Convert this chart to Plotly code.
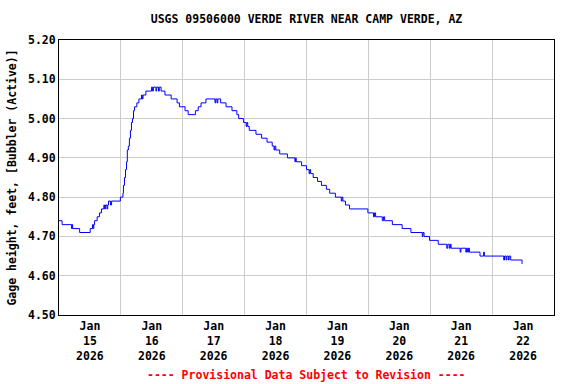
import plotly.graph_objects as go
from datetime import datetime, timedelta

# Hours after 2026-01-15 00:00 at which the gage height changes, and the new value (ft)
hours = [0.0, 1.2, 4.9, 5.1, 5.3, 8.0, 12.1, 13.0, 13.3, 13.5, 13.8, 14.8, 15.7, 16.5,
         17.4, 17.7, 18.0, 18.6, 18.9, 19.2, 20.0, 20.4, 23.8, 24.8, 25.0, 25.4, 25.8,
         26.2, 26.5, 26.9, 27.3, 27.7, 28.1, 28.5, 28.9, 29.3, 30.2, 31.0, 32.0, 32.3,
         32.6, 33.7, 35.9, 36.3, 36.6, 37.6, 37.9, 38.6, 38.9, 39.6, 41.1, 43.5, 45.8,
         46.7, 48.9, 50.1, 52.9, 54.0, 55.1, 57.0, 60.5, 60.8, 61.3, 61.6, 62.7, 64.8,
         67.1, 69.0, 69.7, 71.6, 72.6, 72.9, 73.2, 73.8, 76.4, 78.6, 80.7, 82.7, 83.4,
         83.7, 84.1, 85.6, 88.6, 91.5, 91.8, 92.0, 94.1, 96.0, 97.0, 97.3, 97.6, 98.6,
         100.3, 101.8, 103.7, 105.0, 107.2, 109.5, 109.8, 110.1, 111.1, 112.7, 119.8,
         122.0, 122.4, 122.8, 125.4, 125.9, 126.3, 129.3, 133.1, 136.5, 140.9, 141.2,
         141.6, 143.7, 147.1, 150.4, 150.8, 151.4, 151.8, 152.1, 155.6, 155.9, 157.8,
         158.1, 158.5, 158.8, 159.2, 163.3, 164.7, 165.0, 172.5, 172.8, 173.4, 173.7,
         174.3, 174.6, 175.2, 179.6]
gage_ft = [4.74, 4.73, 4.72, 4.73, 4.72, 4.71, 4.72, 4.73, 4.72, 4.73, 4.74, 4.75, 4.76, 4.77,
           4.78, 4.77, 4.78, 4.77, 4.78, 4.79, 4.78, 4.79, 4.80, 4.81, 4.83, 4.85, 4.87,
           4.89, 4.92, 4.93, 4.95, 4.97, 4.99, 5.00, 5.02, 5.03, 5.04, 5.05, 5.06, 5.05,
           5.06, 5.07, 5.08, 5.07, 5.08, 5.07, 5.08, 5.07, 5.08, 5.07, 5.06, 5.05, 5.04,
           5.03, 5.02, 5.01, 5.02, 5.03, 5.04, 5.05, 5.04, 5.05, 5.04, 5.05, 5.04, 5.03,
           5.02, 5.01, 5.00, 4.99, 4.98, 4.99, 4.98, 4.97, 4.96, 4.95, 4.94, 4.93, 4.92,
           4.93, 4.92, 4.91, 4.90, 4.89, 4.90, 4.89, 4.88, 4.87, 4.86, 4.87, 4.86, 4.85,
           4.84, 4.83, 4.82, 4.81, 4.80, 4.79, 4.80, 4.79, 4.78, 4.77, 4.76,
           4.75, 4.76, 4.75, 4.74, 4.75, 4.74, 4.73, 4.72, 4.71, 4.70, 4.71,
           4.70, 4.69, 4.68, 4.67, 4.68, 4.67, 4.68, 4.67, 4.66, 4.67, 4.66,
           4.67, 4.66, 4.67, 4.66, 4.65, 4.66, 4.65, 4.64, 4.65, 4.64, 4.65,
           4.64, 4.65, 4.64, 4.63]

start = datetime(2026, 1, 15)
times = [start + timedelta(hours=h) for h in hours]

title_text = "USGS 09506000 VERDE RIVER NEAR CAMP VERDE, AZ"
y_title = "Gage height, feet, [Bubbler (Active)]"
note_text = "---- Provisional Data Subject to Revision ----"

FONT = dict(family="DejaVu Sans Mono", size=11.5, color="black", weight="bold")

fig = go.Figure()
fig.add_trace(go.Scatter(x=times, y=gage_ft, mode="lines", line_shape="hv",
                         line=dict(color="#0000FF", width=1), showlegend=False))

fig.update_layout(
    width=576, height=384,
    margin=dict(l=59, r=22, t=40, b=69),
    paper_bgcolor="white", plot_bgcolor="white",
    font=FONT,
    title=dict(text=title_text, x=0.5, xref="paper", xanchor="center",
               y=1 - 19 / 384, yanchor="middle", font=FONT, automargin=False),
    annotations=[dict(text=note_text, xref="paper", yref="paper", x=0.5, y=-60 / 275,
                      xanchor="center", yanchor="middle", showarrow=False,
                      font=dict(family="DejaVu Sans Mono", size=11.5, color="#FF0000",
                                weight="bold"))],
)
fig.update_xaxes(
    type="date", range=["2026-01-15", "2026-01-23"], automargin=False,
    tick0="2026-01-15", dtick=86400000, ticklabelmode="period",
    tickformat="%b<br>%d<br>%Y", ticks="",
    showgrid=True, gridcolor="#CCCCCC", gridwidth=1,
    showline=True, linecolor="black", linewidth=1, mirror=True, zeroline=False,
    tickfont=FONT,
)
fig.update_yaxes(
    range=[4.50, 5.20], dtick=0.1, tick0=4.5, tickformat=".2f", ticks="",
    automargin=False,
    showgrid=True, gridcolor="#CCCCCC", gridwidth=1,
    showline=True, linecolor="black", linewidth=1, mirror=True, zeroline=False,
    tickfont=FONT,
    title=dict(text=y_title, font=FONT, standoff=8),
)

fig.write_html("out.html", config={"displayModeBar": False},
               post_script="document.body.style.margin='0';")
